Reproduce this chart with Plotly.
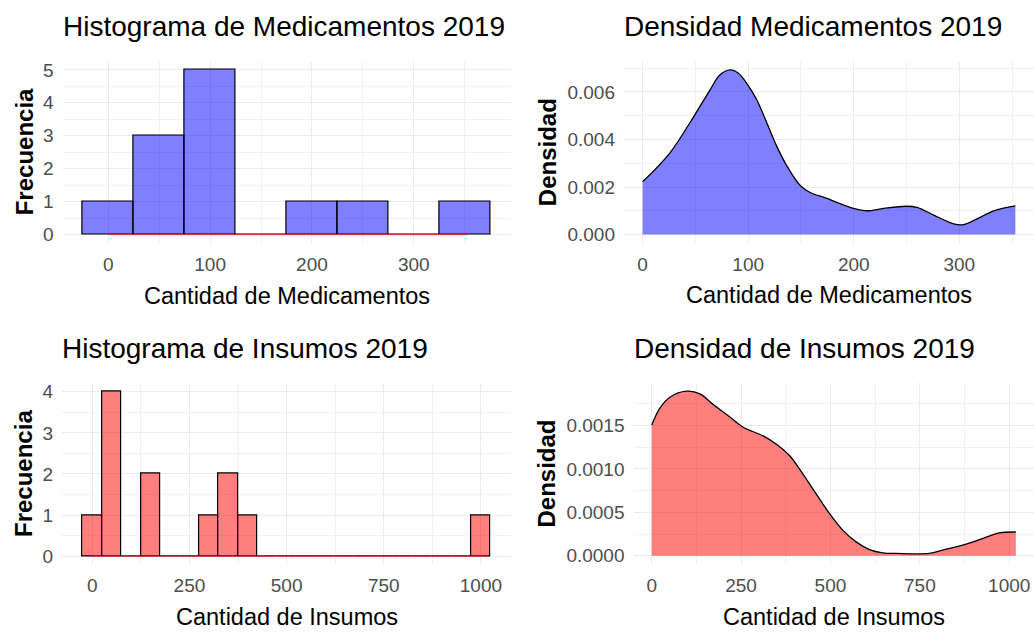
import plotly.graph_objects as go

# ---------------- data ----------------
med_bins = [0, 50, 100, 150, 200, 250, 300, 350]
med_counts = [1, 3, 5, 0, 1, 1, 0, 1]

ins_bins = [0, 50, 100, 150, 200, 250, 300, 350, 400, 450, 500,
            550, 600, 650, 700, 750, 800, 850, 900, 950, 1000]
ins_counts = [1, 4, 0, 2, 0, 0, 1, 2, 1, 0, 0,
              0, 0, 0, 0, 0, 0, 0, 0, 0, 1]

med_dens_x = [0, 25.9, 49.6, 63.9, 73.3, 82.8, 90.7, 99.6, 108, 117.6, 127,
              136.6, 149.5, 158.7, 174.5, 199.8, 212.5, 228.3, 249.8, 259.9,
              275.7, 294.7, 304.1, 316.8, 332.6, 353.1]
med_dens_y = [0.00222, 0.00344, 0.00505, 0.00609, 0.00672, 0.00693, 0.00679,
              0.00630, 0.00568, 0.00470, 0.00372, 0.00289, 0.00205, 0.00177,
              0.00152, 0.00110, 0.00100, 0.00110, 0.00119, 0.00114, 0.00082,
              0.00045, 0.00042, 0.00066, 0.00100, 0.00121]

ins_dens_x = [0, 23, 51, 97.7, 134.9, 172, 218.6, 255.8, 311.6, 348.8, 386,
              423, 460, 497.6, 534.8, 572, 609, 646.4, 683.6, 776.6, 813.8,
              869.6, 925.4, 972, 1018.4]
ins_dens_y = [0.001505, 0.00170, 0.001825, 0.001894, 0.001864, 0.00174,
              0.001597, 0.00148, 0.00138, 0.001284, 0.001151, 0.00094,
              0.000713, 0.000484, 0.000293, 0.00016, 0.000072, 0.000034,
              0.000027, 0.000027, 0.000065, 0.000122, 0.000198, 0.000263,
              0.000274]

titles = ["Histograma de Medicamentos 2019", "Densidad Medicamentos 2019",
          "Histograma de Insumos 2019", "Densidad de Insumos 2019"]
x_titles = ["Cantidad de Medicamentos", "Cantidad de Medicamentos",
            "Cantidad de Insumos", "Cantidad de Insumos"]
y_titles = ["Frecuencia", "Densidad", "Frecuencia", "Densidad"]

BIN_W = 50
W, H = 1034, 633
FONT = "Liberation Sans, Arial, sans-serif"
BLUE = "rgba(0,0,255,0.5)"
RED = "rgba(255,0,0,0.5)"

# panel pixel boxes (left, right, top, bottom)
boxes = [(62.5, 510.5, 60, 242.5), (624, 1034, 60, 242.3),
         (62.2, 511, 384, 566), (633.5, 1034, 383.4, 565.6)]


def px_x(v):
    return v / W


def px_y(v):
    return 1 - v / H


def expand(lo, hi, f=0.05):
    s = hi - lo
    return [lo - f * s, hi + f * s]


fig = go.Figure()

# histogram medicamentos
fig.add_trace(go.Bar(x=med_bins, y=med_counts, width=BIN_W,
                     marker=dict(color=BLUE, line=dict(color="black", width=1.2)),
                     xaxis="x", yaxis="y", showlegend=False))
fig.add_trace(go.Scatter(x=med_dens_x, y=med_dens_y, mode="lines",
                         line=dict(color="#E03030", width=1), xaxis="x", yaxis="y",
                         showlegend=False))
# density medicamentos
fig.add_trace(go.Scatter(x=med_dens_x, y=med_dens_y, mode="lines", fill="tozeroy",
                         fillcolor=BLUE, line=dict(color="black", width=1.3, shape="spline"),
                         xaxis="x2", yaxis="y2", showlegend=False))
# histogram insumos
fig.add_trace(go.Bar(x=ins_bins, y=ins_counts, width=BIN_W,
                     marker=dict(color=RED, line=dict(color="black", width=1.2)),
                     xaxis="x3", yaxis="y3", showlegend=False))
fig.add_trace(go.Scatter(x=ins_dens_x, y=ins_dens_y, mode="lines",
                         line=dict(color="#E03030", width=1), xaxis="x3", yaxis="y3",
                         showlegend=False))
# density insumos
fig.add_trace(go.Scatter(x=ins_dens_x, y=ins_dens_y, mode="lines", fill="tozeroy",
                         fillcolor=RED, line=dict(color="black", width=1.3, shape="spline"),
                         xaxis="x4", yaxis="y4", showlegend=False))

x_ranges = [expand(min(med_bins) - BIN_W / 2, max(med_bins) + BIN_W / 2),
            expand(min(med_dens_x), max(med_dens_x)),
            expand(min(ins_bins) - BIN_W / 2, max(ins_bins) + BIN_W / 2),
            expand(min(ins_dens_x), max(ins_dens_x))]
y_ranges = [expand(0, max(med_counts)), expand(0, max(med_dens_y)),
            expand(0, max(ins_counts)), expand(0, max(ins_dens_y))]
x_dticks = [100, 100, 250, 250]
y_dticks = [1, 0.002, 1, 0.0005]
y_fmt = ["d", ".3f", "d", ".4f"]

GRID = "#EBEBEB"
TICKC = "#4D4D4D"
layout = dict(width=W, height=H, margin=dict(l=0, r=0, t=0, b=0),
              paper_bgcolor="white", plot_bgcolor="white", bargap=0,
              font=dict(family=FONT, color="black"))
annotations = []
for i in range(4):
    l, r, t, b = boxes[i]
    sx = "" if i == 0 else str(i + 1)
    layout["xaxis" + sx] = dict(
        domain=[px_x(l), px_x(r)], range=x_ranges[i], anchor="y" + sx,
        dtick=x_dticks[i], tick0=0, showgrid=True, gridcolor=GRID, gridwidth=1,
        zeroline=False, showline=False, ticks="",
        tickfont=dict(size=19, color=TICKC, family=FONT), ticklabelstandoff=8,
        minor=dict(dtick=x_dticks[i] / 2, tick0=0, showgrid=True,
                   gridcolor="#F1F1F1", gridwidth=0.8))
    layout["yaxis" + sx] = dict(
        domain=[px_y(b), px_y(t)], range=y_ranges[i], anchor="x" + sx,
        dtick=y_dticks[i], tick0=0, tickformat=y_fmt[i],
        showgrid=True, gridcolor=GRID, gridwidth=1,
        zeroline=False, showline=False, ticks="",
        tickfont=dict(size=19, color=TICKC, family=FONT), ticklabelstandoff=8,
        minor=dict(dtick=y_dticks[i] / 2, tick0=0, showgrid=True,
                   gridcolor="#F1F1F1", gridwidth=0.8))
    # title
    annotations.append(dict(text=titles[i], xref="paper", yref="paper",
                            x=px_x(l - 2), y=px_y(t - 35),
                            xanchor="left", yanchor="middle", showarrow=False,
                            font=dict(size=28, family=FONT, color="black")))
    # x title
    annotations.append(dict(text=x_titles[i], xref="paper", yref="paper",
                            x=px_x((l + r) / 2), y=px_y(b + 53),
                            xanchor="center", yanchor="middle", showarrow=False,
                            font=dict(size=23.5, family=FONT, color="black")))
    # y title
    annotations.append(dict(text="<b>" + y_titles[i] + "</b>", xref="paper", yref="paper",
                            x=px_x(24 if i % 2 == 0 else 547), y=px_y((t + b) / 2),
                            xanchor="center", yanchor="middle", showarrow=False,
                            textangle=-90,
                            font=dict(size=24, family=FONT, color="black")))
layout["annotations"] = annotations
fig.update_layout(**layout)
fig.write_html("out.html", config={"displayModeBar": False},
               post_script="document.body.style.margin='0';document.body.style.padding='0';")
